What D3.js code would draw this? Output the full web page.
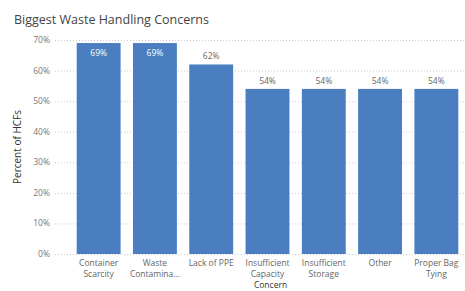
<!DOCTYPE html>
<html lang="en">
<head>
<meta charset="UTF-8">
<title>Biggest Waste Handling Concerns</title>
<script src="https://d3js.org/d3.v7.min.js"></script>
<style>
  body { margin: 0; background: #fff; font-family: "Open Sans", "Noto Sans", sans-serif; }
  svg { display: block; }
</style>
</head>
<body>
<svg width="465" height="291"></svg>
<script>
  // data
  const concerns = ["Container Scarcity", "Waste Contamina...", "Lack of PPE", "Insufficient Capacity",
                    "Insufficient Storage", "Other", "Proper Bag Tying"];
  const labelLines = [["Container", "Scarcity"], ["Waste", "Contamina..."], ["Lack of PPE"],
                      ["Insufficient", "Capacity"], ["Insufficient", "Storage"], ["Other"], ["Proper Bag", "Tying"]];
  const percents = [69, 69, 62, 54, 54, 54, 54];
  const yTicks = [0, 10, 20, 30, 40, 50, 60, 70];

  const svg = d3.select("svg");
  const barColor = "#4a7ec0";

  const x = d3.scaleBand().domain(concerns).range([70.5, 464.5]).paddingInner(0.22).paddingOuter(0.11);
  const y = d3.scaleLinear().domain([0, 70]).range([254, 40]);

  svg.append("text")
    .attr("x", 14).attr("y", 24)
    .attr("font-size", 12.5).attr("fill", "#444")
    .text("Biggest Waste Handling Concerns");

  // gridlines + y labels
  const grid = svg.append("g");
  grid.selectAll("line").data(yTicks).join("line")
    .attr("x1", 55).attr("x2", 465)
    .attr("y1", d => y(d) + 0.5).attr("y2", d => y(d) + 0.5)
    .attr("stroke", "#ccc").attr("stroke-dasharray", "1,2");
  grid.selectAll("text").data(yTicks).join("text")
    .attr("x", 50).attr("y", d => y(d)).attr("dy", "0.35em")
    .attr("text-anchor", "end").attr("font-size", 8.5).attr("fill", "#777")
    .text(d => d + "%");

  svg.append("text")
    .attr("transform", `translate(21,${(y(0) + y(70)) / 2}) rotate(-90)`)
    .attr("text-anchor", "middle").attr("font-size", 10).attr("fill", "#333")
    .text("Percent of HCFs");

  // bars
  svg.selectAll("rect.bar").data(percents).join("rect")
    .attr("class", "bar")
    .attr("x", (d, i) => x(concerns[i])).attr("width", x.bandwidth())
    .attr("y", d => y(d)).attr("height", d => y(0) - y(d))
    .attr("fill", barColor);

  // value labels: inside for the tallest bars, above for the others
  svg.selectAll("text.val").data(percents).join("text")
    .attr("class", "val")
    .attr("x", (d, i) => x(concerns[i]) + x.bandwidth() / 2)
    .attr("y", d => d >= 65 ? y(d) + 13 : y(d) - 5)
    .attr("text-anchor", "middle").attr("font-size", 8.5)
    .attr("fill", d => d >= 65 ? "#fff" : "#666")
    .text(d => d + "%");

  // x labels
  const xl = svg.selectAll("text.xl").data(labelLines).join("text")
    .attr("class", "xl")
    .attr("text-anchor", "middle").attr("font-size", 8.5).attr("fill", "#666");
  xl.selectAll("tspan").data((d, i) => d.map(t => ({ t, i }))).join("tspan")
    .attr("x", d => x(concerns[d.i]) + x.bandwidth() / 2)
    .attr("y", (d, j) => 266 + j * 10.5)
    .text(d => d.t);

  svg.append("text")
    .attr("x", (x.range()[0] + x.range()[1]) / 2 + 3).attr("y", 287.5)
    .attr("text-anchor", "middle").attr("font-size", 8.5).attr("fill", "#333")
    .text("Concern");
</script>
</body>
</html>
